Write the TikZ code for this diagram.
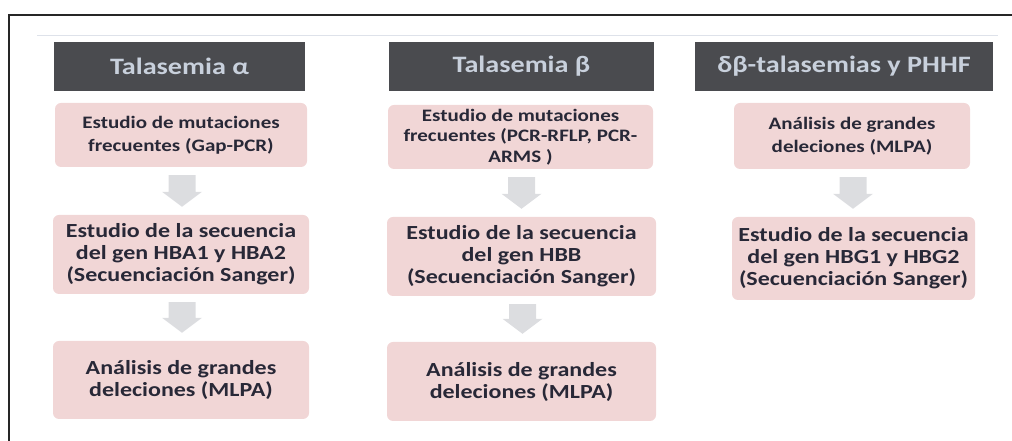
\documentclass[tikz,border=0pt]{standalone}
\usepackage{fontspec}
\usepackage{tikz}
\usetikzlibrary{calc}

\newfontfamily\cajafont{Carlito}[FakeStretch=1.2]

\definecolor{cabecera}{RGB}{74,75,79}
\definecolor{textocab}{RGB}{200,208,220}
\definecolor{rosa}{RGB}{241,214,214}
\definecolor{textocaja}{RGB}{40,40,55}
\definecolor{gris}{RGB}{220,221,224}
\definecolor{linea}{RGB}{222,226,234}

\tikzset{
    titulo/.style={fill=cabecera, text=textocab, inner sep=0pt, minimum height=49pt,
        font=\cajafont\bfseries\fontsize{23.5}{26}\selectfont},
    caja/.style={fill=rosa, text=textocaja, rounded corners=6pt, inner sep=0pt, align=center},
    chica/.style={caja, font=\cajafont\bfseries\fontsize{17.5}{23}\selectfont},
    grande/.style={caja, font=\cajafont\bfseries\fontsize{20}{22}\selectfont},
    flecha/.style={fill=gris}
}

\begin{document}
\begin{tikzpicture}[x=1pt,y=1pt]
            \useasboundingbox (0,0) rectangle (1012,441);
            \draw [line width=2.5pt, black!85] (9,0) -- (9,426) -- (1012,426);
            \draw [linea, line width=1pt] (37,405.5) -- (998,405.5);

            \node [titulo, minimum width=251pt] (halfa) at (179.5,374.5) {Talasemia α};
            \node [titulo, minimum width=265pt] (hbeta) at (521.5,374.5) {Talasemia β};
            \node [titulo, minimum width=298pt] (hdelta) at (844,374.5) {δβ-talasemias y PHHF};

            % talasemia alfa
            \node [chica, minimum width=252pt, minimum height=64pt] (alfa1) at (181,306)
                {Estudio de mutaciones\\frecuentes (Gap-PCR)};
            \node [grande, minimum width=256pt, minimum height=79pt] (alfa2) at (181,186.5)
                {Estudio de la secuencia\\del gen HBA1 y HBA2\\(Secuenciación Sanger)};
            \node [grande, minimum width=256pt, minimum height=78pt] (alfa3) at (181,61)
                {Análisis de grandes\\deleciones (MLPA)};

            % talasemia beta
            \node [chica, font=\cajafont\bfseries\fontsize{17.5}{20.5}\selectfont, minimum width=265pt, minimum height=64pt] (beta1) at (520.5,304)
                {Estudio de mutaciones\\frecuentes (PCR-RFLP, PCR-\\ARMS )};
            \node [grande, minimum width=269pt, minimum height=79pt] (beta2) at (521.5,184.5)
                {Estudio de la secuencia\\del gen HBB\\(Secuenciación Sanger)};
            \node [grande, minimum width=269pt, minimum height=79pt] (beta3) at (521.5,59.5)
                {Análisis de grandes\\deleciones (MLPA)};

            % delta-beta y PHHF
            \node [chica, minimum width=236pt, minimum height=66pt] (delta1) at (852,305)
                {Análisis de grandes\\deleciones (MLPA)};
            \node [grande, minimum width=243pt, minimum height=83pt] (delta2) at (853.5,182.5)
                {Estudio de la secuencia\\del gen HBG1 y HBG2\\(Secuenciación Sanger)};

            \foreach \a/\b in {alfa1/alfa2, alfa2/alfa3, beta1/beta2, beta2/beta3, delta1/delta2} {
                \coordinate (top) at ($(\a.south)+(1,-8)$);
                \coordinate (tip) at ($(\a.south |- \b.north)+(1,8)$);
                \fill [flecha] ($(top)+(-13.5,0)$) -- ($(top)+(13.5,0)$)
                    -- ($(tip)+(13.5,15)$) -- ($(tip)+(20,15)$) -- (tip)
                    -- ($(tip)+(-20,15)$) -- ($(tip)+(-13.5,15)$) -- cycle;
            }

        \end{tikzpicture}
\end{document}
